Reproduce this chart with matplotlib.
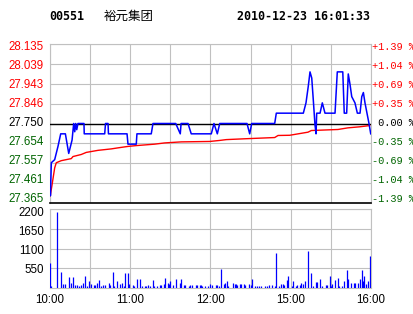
import matplotlib

matplotlib.use("Agg")
import matplotlib.pyplot as plt

# trading minutes since 10:00 (lunch break 12:30-14:30 removed)
TIME_TICKS = [0, 60, 120, 180, 240]
TIME_LABELS = ["10:00", "11:00", "12:00", "15:00", "16:00"]

PREV_CLOSE = 27.750
PRICE_TICKS = [27.365, 27.461, 27.557, 27.654, 27.750, 27.846, 27.943, 28.039, 28.135]
PRICE_LABELS = ["27.365", "27.461", "27.557", "27.654", "27.750", "27.846", "27.943", "28.039", "28.135"]
PCT_LABELS = ["-1.39 %", "-1.04 %", "-0.69 %", "-0.35 %", " 0.00 %", "+0.35 %", "+0.69 %", "+1.04 %", "+1.39 %"]

PRICE_MIN = [0, 0.3, 1.0, 3.5, 6.0, 8.0, 11.5, 14.0, 16.5, 17.7, 18.5, 19.2, 20.0, 20.9, 25.4, 25.6,
             40.9, 41.5, 43.4, 43.7, 57.6, 58.3, 64.5, 65.0, 75.7, 77.0, 94.0, 97.4, 98.0, 103.2,
             105.6, 120.6, 122.6, 125.1, 126.9, 147.3, 149.3, 150.8, 168.0, 169.2, 189.4, 191.4,
             193.1, 194.4, 195.7, 196.9, 198.1, 198.9, 199.4, 201.9, 203.6, 205.6, 213.1, 214.8,
             218.9, 220.0, 221.8, 223.0, 224.3, 225.6, 228.0, 229.8, 231.8, 233.1, 234.3, 235.5,
             237.3, 238.5, 239.8]
PRICE = [27.47, 27.40, 27.56, 27.575, 27.64, 27.70, 27.70, 27.605, 27.67, 27.75, 27.71, 27.75, 27.72,
         27.75, 27.75, 27.70, 27.70, 27.75, 27.75, 27.70, 27.70, 27.65, 27.65, 27.70, 27.70, 27.75,
         27.75, 27.70, 27.75, 27.75, 27.70, 27.70, 27.75, 27.70, 27.75, 27.75, 27.70, 27.75, 27.75,
         27.80, 27.80, 27.85, 27.93, 28.00, 27.97, 27.86, 27.745, 27.70, 27.80, 27.80, 27.85, 27.80,
         27.80, 28.00, 28.00, 27.80, 27.80, 27.99, 27.94, 27.88, 27.85, 27.80, 27.80, 27.88, 27.90,
         27.85, 27.79, 27.75, 27.70]

AVG_MIN = [0.2, 1.7, 3.5, 4.7, 8.4, 15.9, 17.2, 23.4, 27.1, 35.9, 45.8, 50.8, 58.3, 64.5, 78.3, 85.8,
           98.2, 119.4, 126.9, 131.8, 145.6, 168.0, 170.5, 179.2, 192.9, 195.4, 215.3, 222.8,
           231.6, 239.0]
AVG_PRICE = [27.40, 27.46, 27.535, 27.56, 27.57, 27.58, 27.59, 27.60, 27.61, 27.62, 27.627, 27.632,
             27.639, 27.643, 27.65, 27.656, 27.661, 27.663, 27.668, 27.672, 27.676, 27.682, 27.692,
             27.693, 27.708, 27.716, 27.721, 27.729, 27.734, 27.740]

VOL_TICKS = [550, 1100, 1650, 2200]
VOL_MIN = [0, 1, 5, 8, 10, 11, 14, 16, 17, 19, 20, 22, 23, 25, 26, 28, 29, 31, 33, 34, 35, 37, 38,
           40, 41, 44, 45, 47, 48, 50, 52, 54, 55, 56, 58, 59, 62, 63, 65, 67, 69, 71, 72, 73, 75,
           77, 78, 80, 82, 83, 85, 86, 88, 89, 90, 92, 94, 97, 98, 100, 101, 104, 105, 106, 109,
           110, 112, 113, 114, 116, 118, 120, 121, 124, 125, 126, 128, 130, 131, 132, 133, 137,
           138, 139, 140, 142, 143, 145, 146, 149, 150, 151, 153, 155, 156, 158, 161, 162, 164,
           166, 168, 169, 171, 173, 174, 175, 177, 178, 181, 182, 184, 185, 187, 188, 189, 191,
           193, 195, 197, 199, 200, 202, 203, 206, 207, 209, 210, 211, 213, 215, 216, 218, 220,
           222, 223, 225, 227, 228, 230, 232, 233, 234, 235, 236, 238, 239]
VOLUME = [705, 56, 2107, 455, 111, 111, 297, 130, 297, 74, 74, 56, 74, 130, 334, 56, 186, 111, 74,
          74, 130, 223, 56, 74, 74, 130, 74, 455, 56, 204, 111, 130, 56, 427, 427, 111, 74, 56, 251,
          251, 56, 56, 56, 74, 56, 223, 56, 56, 74, 74, 111, 278, 130, 111, 204, 74, 251, 130, 251,
          74, 74, 56, 74, 74, 74, 74, 74, 74, 56, 56, 56, 111, 74, 74, 74, 56, 529, 111, 149, 204,
          56, 130, 111, 111, 74, 111, 111, 111, 74, 111, 74, 251, 56, 56, 56, 56, 56, 56, 74, 74,
          56, 984, 56, 111, 111, 74, 223, 334, 56, 204, 56, 74, 74, 130, 111, 195, 1030, 427, 56,
          167, 167, 260, 56, 74, 74, 334, 56, 111, 223, 278, 56, 56, 204, 501, 251, 130, 149, 130,
          130, 251, 501, 195, 334, 111, 195, 891]

RED = "#ff0000"
GREEN = "#006400"
BLUE = "#0000ff"
GRID = "#c0c0c0"
LABEL_FONT = "Liberation Sans"


def label_colour(value: float) -> str:
    if abs(value - PREV_CLOSE) < 1e-6:
        return "black"
    return RED if value > PREV_CLOSE else GREEN


def squeezed(n: int, bottom_px: float, step_px: float, height_px: float) -> list[float]:
    # the source chart pulls its end labels inward so they stay inside the panel
    return [(bottom_px + i * step_px) / height_px for i in range(n)]


def style_axes(ax) -> None:
    ax.set_xlim(0, 240)
    ax.set_xticks(range(0, 241, 30))
    ax.grid(True, color=GRID, linewidth=0.8)
    for spine in ax.spines.values():
        spine.set_color(GRID)
        spine.set_linewidth(0.8)
    ax.tick_params(length=0)


def price_panel(ax) -> None:
    style_axes(ax)
    ax.set_ylim(PRICE_TICKS[0], PRICE_TICKS[-1])
    ax.set_yticks(PRICE_TICKS)
    ax.set_yticklabels([])
    ax.set_xticklabels([])
    for frac, value, text, pct in zip(squeezed(9, 4, 19, 159), PRICE_TICKS, PRICE_LABELS, PCT_LABELS):
        colour = label_colour(value)
        ax.text(-6 / 321, frac, text, transform=ax.transAxes, ha="right", va="center",
                fontsize=8.3, family=LABEL_FONT, color=colour)
        ax.text(1 + 1 / 321, frac, pct, transform=ax.transAxes, ha="left", va="center",
                fontsize=7.4, family="Liberation Mono", color=colour)
    ax.axhline(PREV_CLOSE, color="black", linewidth=1.0, zorder=3)
    ax.spines["bottom"].set_color("black")
    ax.spines["bottom"].set_linewidth(1.2)
    ax.plot(AVG_MIN, AVG_PRICE, color=RED, linewidth=1.0, zorder=4)
    ax.plot(PRICE_MIN, PRICE, color=BLUE, linewidth=1.1, zorder=5)


def volume_panel(ax) -> None:
    style_axes(ax)
    ax.set_ylim(0, 2200)
    ax.set_yticks(VOL_TICKS)
    ax.set_yticklabels([])
    for frac, value in zip(squeezed(4, 18, 19, 79), VOL_TICKS):
        ax.text(-6 / 321, frac, str(value), transform=ax.transAxes, ha="right", va="center",
                fontsize=8.3, family=LABEL_FONT, color="black")
    ax.set_xticklabels(["" if t not in TIME_TICKS else TIME_LABELS[TIME_TICKS.index(t)]
                        for t in range(0, 241, 30)], fontsize=8.3, family=LABEL_FONT)
    ax.tick_params(axis="x", pad=4)
    ax.vlines(VOL_MIN, 0, VOLUME, color=BLUE, linewidth=0.9, zorder=4)


def main() -> None:
    fig = plt.figure(figsize=(4.14, 3.14), dpi=100)
    price_ax = fig.add_axes([50 / 414, 111 / 314, 321 / 414, 159 / 314])
    volume_ax = fig.add_axes([50 / 414, 26 / 314, 321 / 414, 79 / 314])
    price_panel(price_ax)
    volume_panel(volume_ax)

    fig.text(49 / 414, 1 - 16 / 314, "00551", fontsize=8.4, family="DejaVu Sans Mono",
             weight="bold", va="center")
    fig.text(104 / 414, 1 - 16 / 314, "裕元集团", fontsize=9, family="Noto Sans CJK SC",
             va="center")
    fig.text(237 / 414, 1 - 16 / 314, "2010-12-23 16:01:33", fontsize=8.4,
             family="DejaVu Sans Mono", weight="bold", va="center")
    fig.savefig("out.png", dpi=100)
    plt.close(fig)


if __name__ == "__main__":
    main()
